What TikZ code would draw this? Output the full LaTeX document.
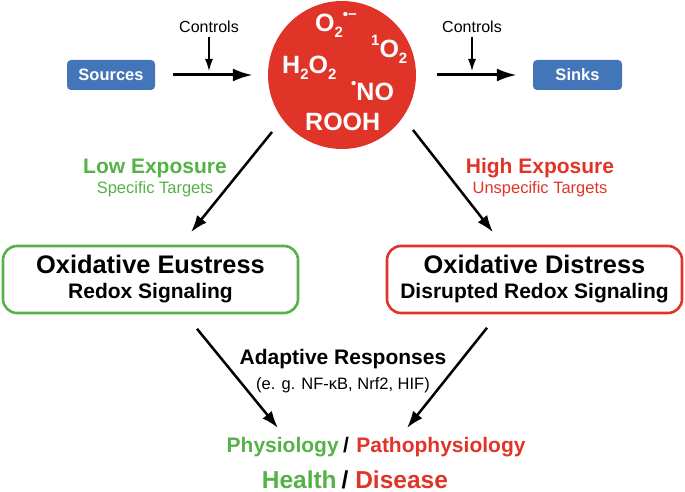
\documentclass[tikz,border=0pt]{standalone}
\usepackage{fontspec}
\setmainfont{Liberation Sans}
\usetikzlibrary{arrows.meta}
\definecolor{rosred}{RGB}{224,52,40}
\definecolor{eugreen}{RGB}{84,178,70}
\definecolor{srcblue}{RGB}{67,118,184}
\newcommand{\lowtxt}[1]{\raisebox{-0.22em}{\fontsize{15}{15}\selectfont #1}}
\newcommand{\hightxt}[1]{\raisebox{0.5em}{\fontsize{15}{15}\selectfont #1}}

\begin{document}
\begin{tikzpicture}[x=1pt,y=-1pt,
  bigarrow/.style={line width=2.5pt,-{Latex[length=17pt,width=12pt]}},
  flowarrow/.style={line width=3pt,-{Latex[length=20pt,width=13pt]}},
  ctrlarrow/.style={line width=1.2pt,-{Latex[length=12pt,width=8pt]}},
  bluebox/.style={fill=srcblue,rounded corners=4pt,minimum height=30pt,text=white,font=\bfseries\fontsize{16.5}{18}\selectfont},
  statebox/.style={draw=#1,line width=2.6pt,rounded corners=14pt,minimum width=295pt,minimum height=67pt,align=center,font=\bfseries\fontsize{21}{25}\selectfont},
  species/.style={text=white,anchor=base west,inner sep=0pt,font=\bfseries\fontsize{25}{25}\selectfont},
  outcome/.style={inner xsep=0pt,inner ysep=1pt,font=\bfseries\fontsize{24.5}{28}\selectfont}]
\useasboundingbox (0,0) rectangle (685,492);
\node[circle,fill=rosred,minimum size=148pt,inner sep=0pt] (ros) at (342,75) {};
\node[species] (superox) at (315,32) {O\lowtxt{2}\hightxt{•−}};
\node[species] (singlet) at (371,58) {\hightxt{1}O\lowtxt{2}};
\node[species] (peroxide) at (282,74) {H\lowtxt{2}O\lowtxt{2}};
\node[species] (nitric) at (351,101) {\hightxt{•}NO};
\node[species] (rooh) at (305,131) {ROOH};
\node[bluebox,minimum width=88pt] (src) at (111,75) {Sources};
\node[bluebox,minimum width=89pt] (snk) at (577.5,75) {Sinks};
\draw[flowarrow,shorten <=18pt,shorten >=15pt] (src) -- (ros);
\draw[flowarrow,shorten <=21pt,shorten >=16pt] (ros) -- (snk);
\node[anchor=base,font=\fontsize{16}{18}\selectfont] (ctl1) at (209,33) {Controls};
\node[anchor=base,font=\fontsize{16}{18}\selectfont] (ctl2) at (472,33) {Controls};
\coordinate (c1) at (209,71);
\coordinate (c2) at (472,71);
\draw[ctrlarrow] (ctl1.south) -- (c1);
\draw[ctrlarrow] (ctl2.south) -- (c2);
\node[statebox=eugreen] (eu) at (150.5,279.5) {{\fontsize{25.4}{25}\selectfont Oxidative Eustress}\\Redox Signaling};
\node[statebox=rosred] (dis) at (534.5,279.5) {{\fontsize{25.4}{25}\selectfont Oxidative Distress}\\Disrupted Redox Signaling};
\node[anchor=base,text=eugreen,font=\bfseries\fontsize{21}{24}\selectfont] (low) at (155,173) {Low Exposure};
\node[anchor=base,text=eugreen,font=\fontsize{16.5}{18}\selectfont] (lowt) at (155,193) {Specific Targets};
\node[anchor=base,text=rosred,font=\bfseries\fontsize{21}{24}\selectfont] (high) at (540,173) {High Exposure};
\node[anchor=base,text=rosred,font=\fontsize{16.5}{18}\selectfont] (hight) at (540,193) {Unspecific Targets};
\draw[bigarrow] ([shift={(-70,57)}]ros.center) -- ([shift={(40.5,-12.5)}]eu.north);
\draw[bigarrow] ([shift={(71,55)}]ros.center) -- ([shift={(-41.5,-12.5)}]dis.north);
\node[anchor=base,font=\bfseries\fontsize{21}{24}\selectfont] (adapt) at (343,364) {Adaptive Responses};
\node[anchor=base,font=\fontsize{16.5}{18}\selectfont] (examples) at (343,389) {(e. g. NF-κB, Nrf2, HIF)};
\node[anchor=base,inner xsep=4pt,font=\bfseries\fontsize{21}{24}\selectfont] (sl1) at (346,452) {/};
\node[anchor=base east,inner xsep=0pt,text=eugreen,font=\bfseries\fontsize{21}{24}\selectfont] (phys) at (sl1.base west) {Physiology};
\node[anchor=base west,inner xsep=0pt,text=rosred,font=\bfseries\fontsize{21}{24}\selectfont] (patho) at ([xshift=3pt]sl1.base east) {Pathophysiology};
\node[outcome,anchor=base,inner xsep=4.5pt] (sl2) at (345,488) {/};
\node[outcome,anchor=base east,text=eugreen] (health) at (sl2.base west) {Health};
\node[outcome,anchor=base west,text=rosred] (disease) at ([xshift=2pt]sl2.base east) {Disease};
\draw[bigarrow] ([shift={(46.5,14.5)}]eu.south) -- ([shift={(-68,-24)}]sl1.base);
\draw[bigarrow] ([shift={(-47.5,13.5)}]dis.south) -- ([shift={(61,-24)}]sl1.base);
\end{tikzpicture}
\end{document}
